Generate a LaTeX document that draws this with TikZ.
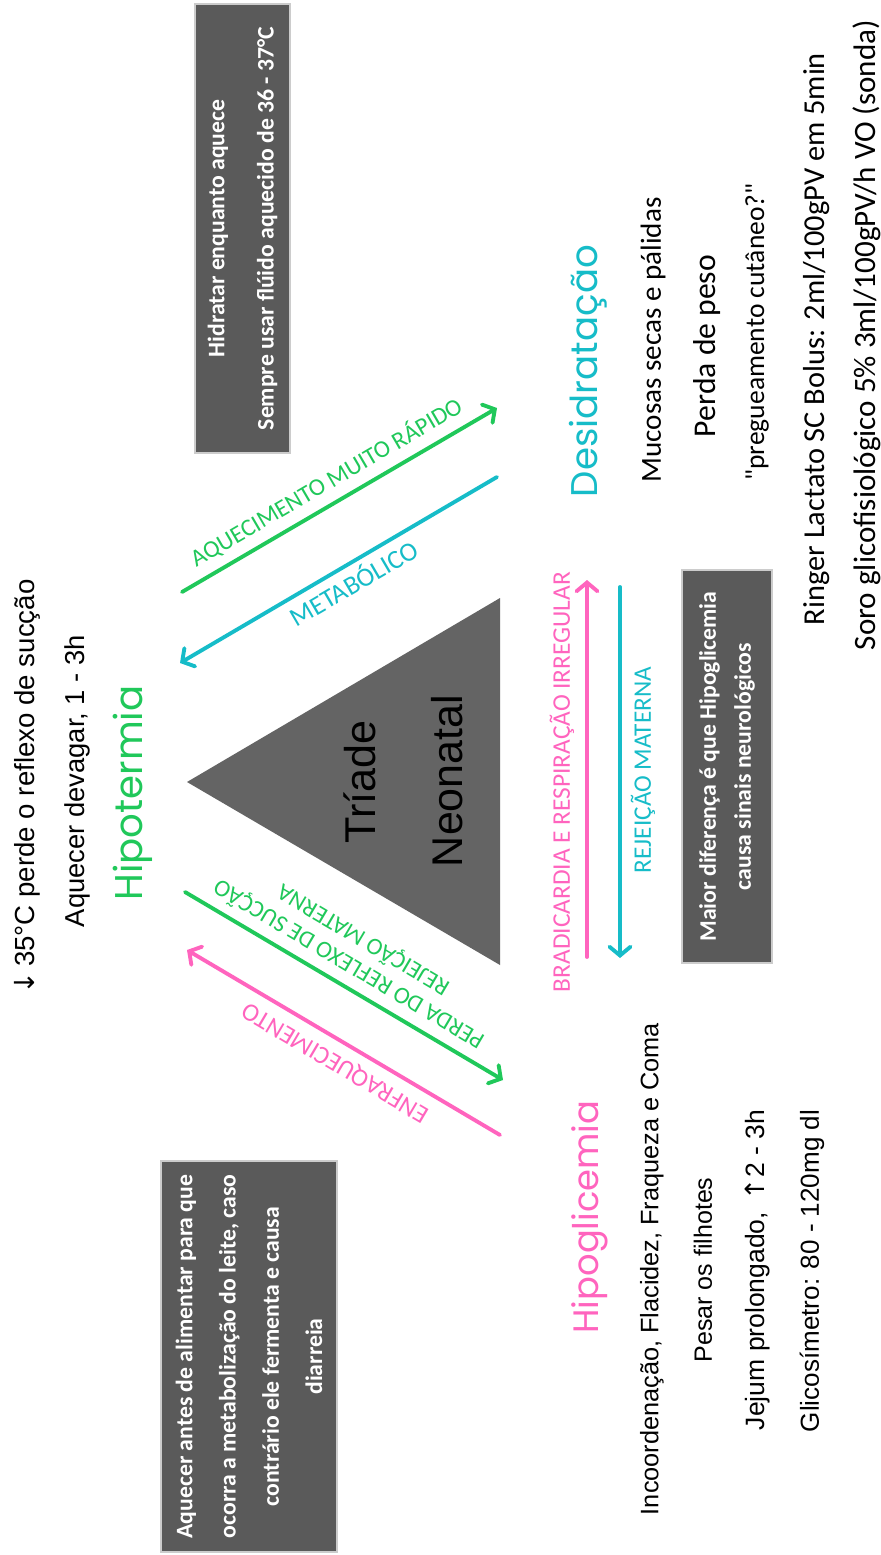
\documentclass[tikz,border=0pt]{standalone}
\usepackage{fontspec}
\setmainfont{Liberation Sans}
\newfontfamily\carl{Carlito}
\newfontfamily\popf{Poppins}
\newfontfamily\dejav{DejaVu Sans}
\usetikzlibrary{arrows.meta}
\definecolor{cgreen}{RGB}{32,200,90}
\definecolor{ccyan}{RGB}{22,188,200}
\definecolor{cpink}{RGB}{255,100,190}
\definecolor{cbox}{RGB}{90,90,90}
\definecolor{ctri}{RGB}{100,100,100}
\newlength\pxu \setlength\pxu{0.02cm}
\newcommand{\fitto}[2]{\resizebox{#1\pxu}{!}{#2}}
\begin{document}
\begin{tikzpicture}[x=0.02cm,y=-0.02cm,
  txt/.style={inner sep=0pt, rotate=90},
  lbl/.style={inner sep=0pt},
  arr/.style={line width=2.2pt, line cap=round, -{Straight Barb[length=5pt,width=12pt,line cap=round]}},
  darkbox/.style={fill=cbox, draw=black!20, line width=0.6pt, rotate=90, text=white, align=center, inner sep=0pt},
  boxfont/.style={font=\carl\bfseries\fontsize{13.5}{#1}\selectfont}]
\fill[white] (0,0) rectangle (881,1555);
\useasboundingbox (0,0) rectangle (881,1555);

% triangle
\fill[ctri] (187,782) -- (500,598) -- (500,965) -- cycle;
\node[txt] (triade) at (360,782) {\fitto{123}{Tríade}};
\node[txt] (neon) at (447,781) {\fitto{172}{Neonatal}};

% left texts
\node[txt] (t35) at (27,787) {\fitto{415}{{\dejav ↓}\,35°C perde o reflexo de sucção}};
\node[txt] (aqd) at (77,781) {\fitto{292}{Aquecer devagar, 1 - 3h}};
\node[txt, text=cgreen] (hipot) at (133,793) {\fitto{215}{\popf Hipotermia}};

% boxes
\node[darkbox, boxfont=28, minimum width=449\pxu, minimum height=95\pxu] (boxA) at (242.5,228.5)
  {Hidratar enquanto aquece\\Sempre usar flúido aquecido de 36 - 37°C};
\node[darkbox, boxfont=20, minimum width=393\pxu, minimum height=90\pxu] (boxB) at (727,766.5)
  {Maior diferença é que Hipoglicemia\\causa sinais neurológicos};
\node[darkbox, boxfont=24.6, minimum width=391\pxu, minimum height=176\pxu] (boxC) at (249,1356.5)
  {Aquecer antes de alimentar para que\\ocorra a metabolização do leite, caso\\contrário ele fermenta e causa\\diarreia};

% Desidratacao
\node[txt, text=ccyan] (desid) at (588,371) {\fitto{252}{\popf Desidratação}};
\node[txt] (muc) at (653,340) {\fitto{285}{\carl Mucosas secas e pálidas}};
\node[txt] (peso) at (707,346) {\fitto{182}{\carl Perda de peso}};
\node[txt] (preg) at (757,332) {\fitto{297}{\carl "pregueamento cutâneo?"}};
\node[txt] (ring) at (817,339) {\fitto{572}{\carl Ringer Lactato SC Bolus: 2ml/100gPV em 5min}};
\node[txt] (soro) at (867,335) {\fitto{630}{\carl Soro glicofisiológico 5\% 3ml/100gPV/h VO (sonda)}};

% Hipoglicemia
\node[txt, text=cpink] (hipog) at (590,1217) {\fitto{233}{\popf Hipoglicemia}};
\node[txt] (inc) at (652,1269) {\fitto{492}{Incoordenação, Flacidez, Fraqueza e Coma}};
\node[txt] (pesar) at (703,1270) {\fitto{185}{Pesar os filhotes}};
\node[txt] (jej) at (758,1270) {\fitto{320}{Jejum prolongado, \,{\dejav ↑}2 - 3h}};
\node[txt] (glic) at (812,1271) {\fitto{322}{Glicosímetro: 80 - 120mg dl}};

% arrow end points
\coordinate (g1s) at (182,592);  \coordinate (g1e) at (497,408);
\coordinate (c1s) at (497,477);  \coordinate (c1e) at (180,663);
\coordinate (g2s) at (185,892);  \coordinate (g2e) at (503,1080);
\coordinate (p1s) at (500,1135); \coordinate (p1e) at (187,950);
\coordinate (p2s) at (587,957);  \coordinate (p2e) at (587,580);
\coordinate (c2s) at (620,587);  \coordinate (c2e) at (620,958);

\draw[arr, cgreen] (g1s) -- (g1e);
\draw[arr, ccyan] (c1s) -- (c1e);
\draw[arr, cgreen] (g2s) -- (g2e);
\draw[arr, cpink] (p1s) -- (p1e);
\draw[arr, cpink] (p2s) -- (p2e);
\draw[arr, ccyan] (c2s) -- (c2e);

% arrow labels
\node[lbl, rotate=30.3, text=cgreen] (lA) at (326,482) {\fitto{310}{\carl AQUECIMENTO MUITO RÁPIDO}};
\node[lbl, rotate=30.3, text=ccyan] (lM) at (353,582) {\fitto{143}{\carl METABÓLICO}};
\node[lbl, rotate=149.4, text=cgreen, align=center, font=\carl\fontsize{13.6}{16}\selectfont] (lP) at (356,952)
  {PERDA DO REFLEXO DE SUCÇÃO\\REJEIÇÃO MATERNA};
\node[lbl, rotate=149.4, text=cpink] (lE) at (336,1062) {\fitto{212}{\carl ENFRAQUECIMENTO}};
\node[txt, text=cpink] (lB) at (562,782) {\fitto{420}{\carl BRADICARDIA E RESPIRAÇÃO IRREGULAR}};
\node[txt, text=ccyan] (lR) at (643,770) {\fitto{206}{\carl REJEIÇÃO MATERNA}};
\end{tikzpicture}
\end{document}
